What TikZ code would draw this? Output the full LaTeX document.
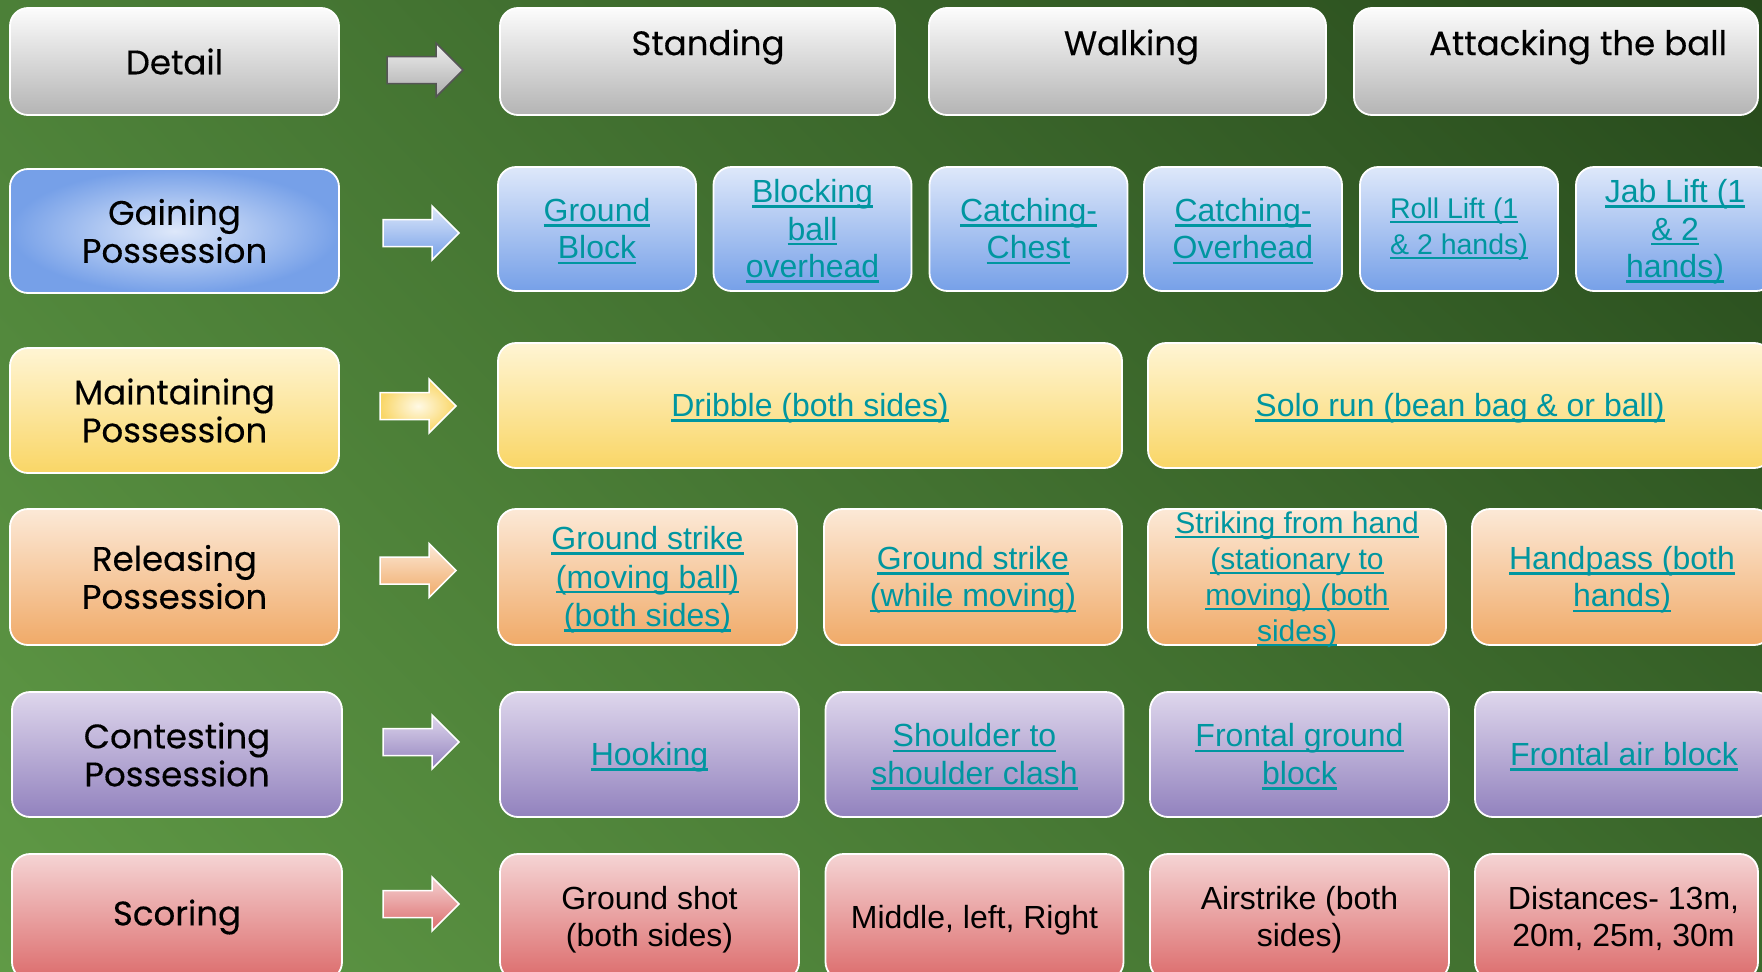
\documentclass[tikz,border=0pt]{standalone}
\usepackage{fontspec}
\setmainfont{Liberation Sans}
\newfontfamily\headfont{Poppins}[FakeBold=0.3]
\usepackage{xcolor}
\usepackage{tikz}
\usetikzlibrary{shadings}
\definecolor{BgUL}{RGB}{76, 128, 56}
\definecolor{BgUR}{RGB}{38, 72, 27}
\definecolor{BgLL}{RGB}{96, 154, 70}
\definecolor{BgLR}{RGB}{60, 106, 44}
\definecolor{GreyTop}{RGB}{252, 252, 252}
\definecolor{GreyBot}{RGB}{180, 180, 180}
\definecolor{BlueTop}{RGB}{222, 232, 250}
\definecolor{BlueBot}{RGB}{118, 160, 232}
\definecolor{YelTop}{RGB}{255, 245, 212}
\definecolor{YelBot}{RGB}{249, 214, 102}
\definecolor{OraTop}{RGB}{252, 233, 215}
\definecolor{OraBot}{RGB}{240, 170, 104}
\definecolor{PurTop}{RGB}{222, 214, 236}
\definecolor{PurBot}{RGB}{146, 130, 190}
\definecolor{RedTop}{RGB}{245, 212, 212}
\definecolor{RedBot}{RGB}{220, 108, 108}
\definecolor{LinkTeal}{RGB}{0, 150, 160}
\definecolor{ArrowEdge}{RGB}{85, 85, 85}

\newcommand\linestrut{\rule[-0.212em]{0pt}{1.117em}}
\newsavebox\lnkbox
\newcommand\lnk[1]{\sbox\lnkbox{#1}\linestrut\rlap{\rule[-0.165em]{\wd\lnkbox}{0.08em}}\usebox\lnkbox}

\tikzset{
  box/.style={draw=white, line width=1.8pt, rounded corners=18pt, inner sep=0pt, align=center},
  headtext/.style={font=\headfont\fontsize{34}{38}\selectfont, text=black},
  linktext/.style={font=\fontsize{32}{37.5}\selectfont, text=LinkTeal},
  plaintext/.style={font=\fontsize{32}{37.5}\selectfont, text=black},
  greybox/.style={box, top color=GreyTop, bottom color=GreyBot},
  bluebox/.style={box, top color=BlueTop, bottom color=BlueBot},
  yelbox/.style={box, top color=YelTop, bottom color=YelBot},
  orabox/.style={box, top color=OraTop, bottom color=OraBot},
  purbox/.style={box, top color=PurTop, bottom color=PurBot},
  redbox/.style={box, top color=RedTop, bottom color=RedBot},
  blockarrow/.style={draw=white, line width=1.5pt, line join=miter},
  toplabel/.style={headtext, anchor=north, inner sep=0pt, yshift=-22pt}
}

\begin{document}
\begin{tikzpicture}[x=1pt,y=-1pt]
  \path[use as bounding box] (0,0) rectangle (1762,972);
  \clip (0,0) rectangle (1762,972);
  \shade[upper left=BgUL, upper right=BgUR, lower left=BgLL, lower right=BgLR]
    (0,0) rectangle (1762,972);

  % Detail
  \node[greybox, headtext, minimum width=329pt, minimum height=107pt] (detail) at (174.5,61.5) {Detail};
  \shade[blockarrow, draw=ArrowEdge, top color=GreyTop!95!black, bottom color=GreyBot!110!white]
    (387,56.5) -- ++(49,0) -- ++(0,-13.5) -- ++(27,27) -- ++(-27,27) -- ++(0,-13.5) -- ++(-49,0) -- cycle;
  \node[greybox, minimum width=395pt, minimum height=107pt,
        label={[toplabel, xshift=10.5pt]north:Standing}] (standing) at (697.5,61.5) {};
  \node[greybox, minimum width=397pt, minimum height=107pt,
        label={[toplabel, xshift=4pt]north:Walking}] (walking) at (1127.5,61.5) {};
  \node[greybox, minimum width=404pt, minimum height=107pt,
        label={[toplabel, xshift=22pt]north:Attacking the ball}] (attacking) at (1556,61.5) {};

  % Gaining possession
  \node[box, inner color=BlueTop, outer color=BlueBot, headtext, minimum width=329pt, minimum height=124pt]
    (gaining) at (174.5,231) {Gaining\\Possession};
  \shade[blockarrow, top color=BlueTop, bottom color=BlueBot]
    (383,219.5) -- ++(49,0) -- ++(0,-13.5) -- ++(27,27) -- ++(-27,27) -- ++(0,-13.5) -- ++(-49,0) -- cycle;
  \node[bluebox, linktext, minimum width=198pt, minimum height=124pt] (groundblock) at (597,229)
    {\lnk{Ground}\\\lnk{Block}};
  \node[bluebox, linktext, minimum width=198pt, minimum height=124pt] (blockball) at (812.5,229)
    {\lnk{Blocking}\\\lnk{ball}\\\lnk{overhead}};
  \node[bluebox, linktext, minimum width=198pt, minimum height=124pt] (catchchest) at (1028.5,229)
    {\lnk{Catching-}\\\lnk{Chest}};
  \node[bluebox, linktext, minimum width=198pt, minimum height=124pt] (catchover) at (1243,229)
    {\lnk{Catching-}\\\lnk{Overhead}};
  \node[bluebox, linktext, font=\fontsize{28.5}{35}\selectfont, minimum width=198pt, minimum height=124pt]
    (rolllift) at (1459,229) {\begin{tabular}{@{}l@{}}\lnk{Roll Lift (1}\\\lnk{\& 2 hands)}\end{tabular}};
  \node[bluebox, linktext, minimum width=198pt, minimum height=124pt] (jablift) at (1675,229)
    {\lnk{Jab Lift (1}\\\lnk{\& 2}\\\lnk{hands)}};

  % Maintaining possession
  \node[yelbox, headtext, minimum width=329pt, minimum height=125pt] (maintaining) at (174.5,410.5)
    {Maintaining\\Possession};
  \shade[blockarrow, inner color=YelTop!60!white, outer color=YelBot]
    (380,392.5) -- ++(49,0) -- ++(0,-13.5) -- ++(27,27) -- ++(-27,27) -- ++(0,-13.5) -- ++(-49,0) -- cycle;
  \node[yelbox, linktext, minimum width=624pt, minimum height=125pt] (dribble) at (810,405.5)
    {\lnk{Dribble (both sides)}};
  \node[yelbox, linktext, minimum width=624pt, minimum height=125pt] (solorun) at (1460,405.5)
    {\lnk{Solo run (bean bag \& or ball)}};

  % Releasing possession
  \node[orabox, headtext, minimum width=329pt, minimum height=136pt] (releasing) at (174.5,577)
    {Releasing\\Possession};
  \shade[blockarrow, top color=OraTop, bottom color=OraBot]
    (380,557) -- ++(49,0) -- ++(0,-13.5) -- ++(27,27) -- ++(-27,27) -- ++(0,-13.5) -- ++(-49,0) -- cycle;
  \node[orabox, linktext, font=\fontsize{32}{38.5}\selectfont, minimum width=299pt, minimum height=136pt]
    (strikeball) at (647.5,577) {\lnk{Ground strike}\\\lnk{(moving ball)}\\\lnk{(both sides)}};
  \node[orabox, linktext, minimum width=298pt, minimum height=136pt] (strikemove) at (973,577)
    {\lnk{Ground strike}\\\lnk{(while moving)}};
  \node[orabox, minimum width=298pt, minimum height=136pt,
        label={[linktext, font=\fontsize{30}{36}\selectfont, align=center, inner sep=0pt]center:{%
          \lnk{Striking from hand}\\\lnk{(stationary to}\\\lnk{moving) (both}\\\lnk{sides)}}}]
    (strikehand) at (1297,577) {};
  \node[orabox, linktext, minimum width=300pt, minimum height=136pt] (handpass) at (1622,577)
    {\lnk{Handpass (both}\\\lnk{hands)}};

  % Contesting possession
  \node[purbox, headtext, minimum width=330pt, minimum height=125pt] (contesting) at (177,754.5)
    {Contesting\\Possession};
  \shade[blockarrow, top color=PurTop, bottom color=PurBot]
    (383,728.5) -- ++(49,0) -- ++(0,-13.5) -- ++(27,27) -- ++(-27,27) -- ++(0,-13.5) -- ++(-49,0) -- cycle;
  \node[purbox, linktext, minimum width=299pt, minimum height=125pt] (hooking) at (649.5,754.5)
    {\lnk{Hooking}};
  \node[purbox, linktext, minimum width=298pt, minimum height=125pt] (shoulder) at (974.5,754.5)
    {\lnk{Shoulder to}\\\lnk{shoulder clash}};
  \node[purbox, linktext, minimum width=299pt, minimum height=125pt] (frontground) at (1299.5,754.5)
    {\lnk{Frontal ground}\\\lnk{block}};
  \node[purbox, linktext, minimum width=298pt, minimum height=125pt] (frontair) at (1624,754.5)
    {\lnk{Frontal air block}};

  % Scoring
  \node[redbox, headtext, minimum width=330pt, minimum height=126pt] (scoring) at (177,917)
    {Scoring};
  \shade[blockarrow, top color=RedTop, bottom color=RedBot]
    (383,890.5) -- ++(49,0) -- ++(0,-13.5) -- ++(27,27) -- ++(-27,27) -- ++(0,-13.5) -- ++(-49,0) -- cycle;
  \node[redbox, plaintext, minimum width=299pt, minimum height=126pt] (groundshot) at (649.5,917)
    {\linestrut Ground shot\\\linestrut(both sides)};
  \node[redbox, plaintext, minimum width=298pt, minimum height=126pt] (middle) at (974.5,917)
    {\linestrut Middle, left, Right};
  \node[redbox, plaintext, minimum width=299pt, minimum height=126pt] (airstrike) at (1299.5,917)
    {\linestrut Airstrike (both\\\linestrut sides)};
  \node[redbox, plaintext, minimum width=283pt, minimum height=126pt] (distances) at (1616.5,917)
    {\hspace*{14pt}\linestrut Distances- 13m,\\\hspace*{14pt}\linestrut 20m, 25m, 30m};
\end{tikzpicture}
\end{document}
